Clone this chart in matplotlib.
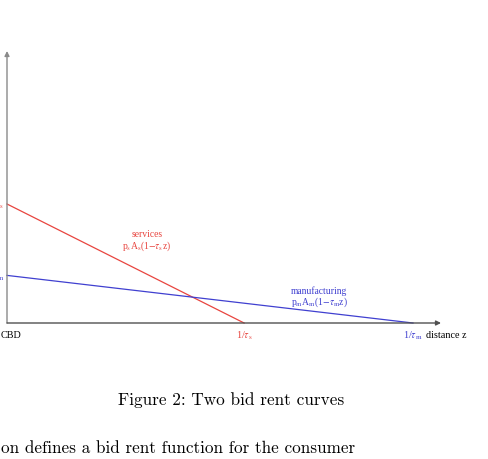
import matplotlib
matplotlib.use("Agg")
import matplotlib.pyplot as plt
import numpy as np

# ---- data ----
tau_s = 1 / 0.584      # services transport cost
tau_m = 1 / 1.0        # manufacturing transport cost
rent_s0 = 1.0          # p_s A_s
rent_m0 = 0.40         # p_m A_m
series_names = ["services", "manufacturing"]
series_formulas = [r"p$_{\rm s}$A$_{\rm s}$(1$-\tau_{\rm s}$z)",
                   r"p$_{\rm m}$A$_{\rm m}$(1$-\tau_{\rm m}$z)"]
x_tick_labels = ["CBD", r"1/$\tau_{\rm s}$", r"1/$\tau_{\rm m}$", "distance z"]
caption = "Figure 2: Two bid rent curves"
body_text = "on defines a bid rent function for the consumer"

plt.rcParams['mathtext.fontset'] = 'stix'
plt.rcParams['font.family'] = ['Liberation Serif', 'DejaVu Serif']

W, H = 489, 460
fig = plt.figure(figsize=(W / 100, H / 100), dpi=100)
ax = fig.add_axes([0, 0, 1, 1])
px_x = 406.0   # pixels per unit z
px_y = 119.0   # pixels per unit rent
x0, y0 = 7.0, 324.0
ax.set_xlim(-x0 / px_x, (W - x0) / px_x)
ax.set_ylim((y0 - H) / px_y, y0 / px_y)
ax.axis('off')

red = '#e8453f'
blue = '#4040d0'

# axes with arrows
ax.annotate('', xy=(0, (y0 - 52) / px_y), xytext=(0, 0),
            arrowprops=dict(arrowstyle='-|>', color='#8a8a8a', lw=1.0,
                            mutation_scale=7, shrinkA=0, shrinkB=0))
ax.annotate('', xy=((441 - x0) / px_x, 0), xytext=(0, 0),
            arrowprops=dict(arrowstyle='-|>', color='#505050', lw=1.0,
                            mutation_scale=7, shrinkA=0, shrinkB=0))

# bid rent curves
zs = np.array([0, 1 / tau_s])
zm = np.array([0, 1 / tau_m])
ax.plot(zs, rent_s0 * (1 - tau_s * zs), color=red, lw=0.9)
ax.plot(zm, rent_m0 * (1 - tau_m * zm), color=blue, lw=0.9)

fs = 6.9
ax.text((147 - x0) / px_x, (y0 - 235) / px_y, series_names[0], color=red,
        fontsize=fs, ha='center', va='center')
ax.text((147 - x0) / px_x, (y0 - 246.5) / px_y, series_formulas[0], color=red,
        fontsize=fs, ha='center', va='center')
ax.text((319 - x0) / px_x, (y0 - 291) / px_y, series_names[1], color=blue,
        fontsize=fs, ha='center', va='center')
ax.text((319 - x0) / px_x, (y0 - 302.5) / px_y, series_formulas[1], color=blue,
        fontsize=fs, ha='center', va='center')

# cut-off y labels at left edge (as in the reference crop)
ax.text(-3 / px_x, rent_s0, r"p$_{\rm s}$A$_{\rm s}$", color=red, fontsize=fs,
        ha='right', va='center')
ax.text(-2 / px_x, rent_m0, r"p$_{\rm m}$A$_{\rm m}$", color=blue, fontsize=fs,
        ha='right', va='center')

fs2 = 7.3
ty = (y0 - 336) / px_y
ax.text(-6 / px_x, ty, x_tick_labels[0], fontsize=fs2, ha='left', va='center')
ax.text(1 / tau_s, ty, x_tick_labels[1], color=red, fontsize=fs2, ha='center', va='center')
ax.text(1 / tau_m, ty, x_tick_labels[2], color=blue, fontsize=fs2, ha='center', va='center')
ax.text((426 - x0) / px_x, ty, x_tick_labels[3], fontsize=fs2, ha='left', va='center')

fig.text(231 / W, 1 - 400 / H, caption, family='cmr10', fontsize=12.4,
         ha='center', va='center')
fig.text(1 / W, 1 - 448 / H, body_text, family='cmr10', fontsize=12.3,
         ha='left', va='center')

fig.savefig('out.png', dpi=100)
